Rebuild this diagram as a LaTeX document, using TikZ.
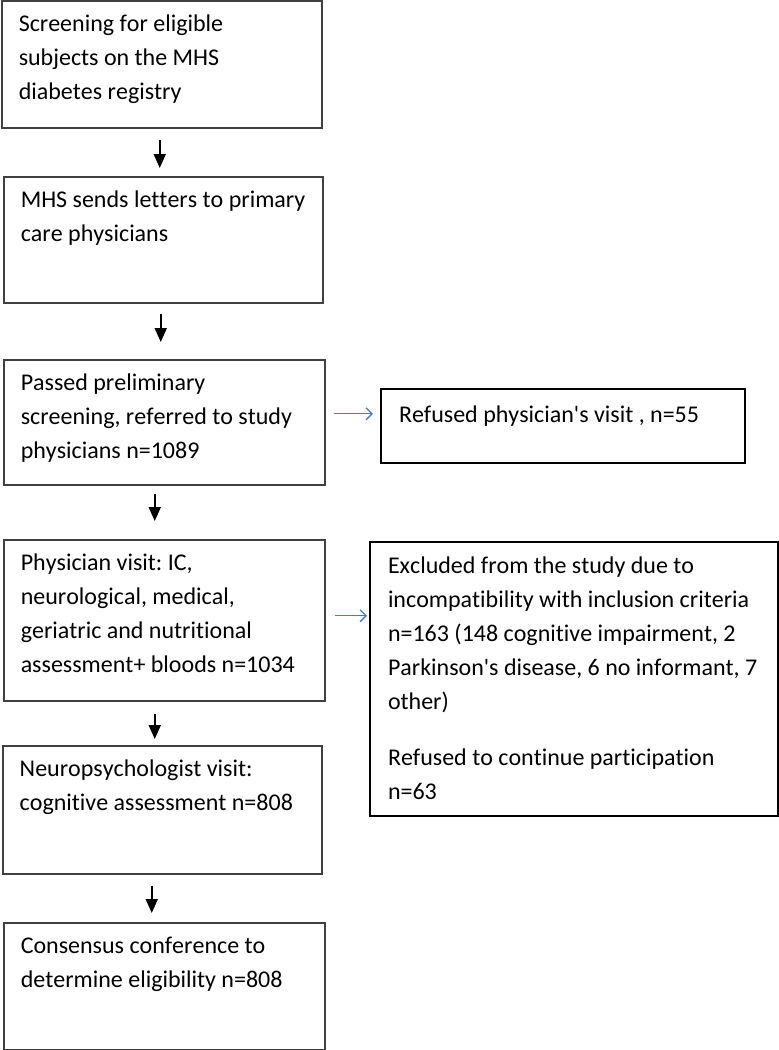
\documentclass[tikz,border=0pt]{standalone}
\usepackage{fontspec}
\newfontfamily\calib{Carlito}[Ligatures=NoCommon, Kerning=Off]
\usetikzlibrary{arrows.meta}
\definecolor{bluearrow}{RGB}{74,126,187}
\newcommand\boxfont{\calib\fontsize{24}{34}\selectfont\frenchspacing\hyphenpenalty=10000\relax}

\begin{document}
\begin{tikzpicture}[x=1pt, y=-1pt,
	box/.style = {draw=black!75, line width=1.5pt, anchor=north west, align=flush left,
		inner xsep=17pt, inner ysep=0pt, text height=31pt, font=\boxfont},
	side/.style = {box, draw=black, line width=2pt, inner xsep=18pt},
	down/.style = {-{Triangle[length=14pt,width=12pt]}, line width=2pt},
	aside/.style = {-{Straight Barb[length=6pt,width=12pt]}, line width=1.4pt, draw=bluearrow}]
\useasboundingbox (0,0) rectangle (779,1050);
% main column
\node[box, text width=286pt, text depth=96pt] (b1) at (1,0) {Screening for eligible\\subjects on the MHS\\diabetes registry};
\node[box, text width=285pt, text depth=95pt] (b2) at (3,176) {MHS sends letters to primary\\care physicians};
\node[box, text width=287pt, text depth=94pt] (b3) at (3,359) {Passed preliminary\\screening, referred to study\\physicians n=1089};
\node[box, text width=287pt, text depth=130pt] (b4) at (3,539) {Physician visit: IC,\\neurological, medical,\\geriatric and nutritional\\assessment+ bloods n=1034};
\node[box, text width=285pt, text depth=97pt] (b5) at (2,745) {Neuropsychologist visit:\\cognitive assessment n=808};
\node[box, text width=287pt, text depth=96pt] (b6) at (3,922) {Consensus conference to\\determine eligibility n=808};
% drop-outs
\node[side, text width=328pt, text height=33pt, text depth=41pt] (r1) at (380,388) {Refused physician's visit , n=55};
\node[side, text width=372pt, text depth=243pt] (r2) at (369,541) {Excluded from the study due to\\incompatibility with inclusion criteria\\n=163 (148 cognitive impairment, 2\\Parkinson's disease, 6 no informant, 7\\other)\\[22pt]Refused to continue participation\\n=63};
% arrows
\draw[down, shorten <=11pt, shorten >=8pt] ([xshift=-2pt]b1.south) -- ([xshift=-2pt]b1.south |- b2.north);
\draw[down, shorten <=10pt, shorten >=17pt] ([xshift=-2.5pt]b2.south) -- ([xshift=-2.5pt]b2.south |- b3.north);
\draw[down, shorten <=8pt, shorten >=18pt] ([xshift=-9.5pt]b3.south) -- ([xshift=-9.5pt]b3.south |- b4.north);
\draw[down, shorten <=12pt, shorten >=6pt] ([xshift=-9.5pt]b4.south) -- ([xshift=-9.5pt]b4.south |- b5.north);
\draw[down, shorten <=11pt, shorten >=9pt] ([xshift=-10.5pt]b5.south) -- ([xshift=-10.5pt]b5.south |- b6.north);
\draw[aside, shorten <=8pt, shorten >=7pt] ([yshift=8.5pt]b3.east) -- ([yshift=8.5pt]b3.east -| r1.west);
\draw[aside, shorten <=9pt, shorten >=2pt] ([yshift=4.5pt]b4.east) -- ([yshift=4.5pt]b4.east -| r2.west);
\end{tikzpicture}
\end{document}
